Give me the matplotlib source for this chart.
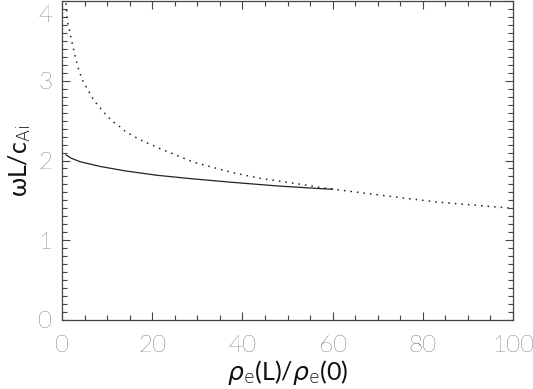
import matplotlib
matplotlib.use("Agg")
import matplotlib.pyplot as plt
from matplotlib.ticker import MultipleLocator
from matplotlib.transforms import ScaledTranslation

# Data
solid_x = [0.9, 2.0, 4.0, 8.5, 14, 21, 29, 38, 48, 58, 60]
solid_y = [2.07, 2.03, 1.985, 1.925, 1.87, 1.815, 1.77, 1.725, 1.68, 1.645, 1.64]

dotted_x = [0.9, 1.2, 1.5, 1.8, 2.1, 2.4, 2.7, 3.0, 3.3, 3.7, 4.2, 4.7, 5.5, 6.2,
            6.8, 7.7, 8.6, 9.5, 10.5, 11.5, 12.7, 13.7, 15.1, 16.2, 17.3, 21.7,
            29.1, 38, 44.6, 52, 58.7, 70, 83, 100]
dotted_y = [3.97, 3.75, 3.67, 3.59, 3.51, 3.44, 3.36, 3.29, 3.22, 3.14, 3.06, 2.99,
            2.91, 2.84, 2.78, 2.71, 2.65, 2.59, 2.53, 2.48, 2.43, 2.38, 2.33, 2.295,
            2.26, 2.15, 1.98, 1.845, 1.77, 1.71, 1.65, 1.57, 1.48, 1.40]

x_ticks = [0, 20, 40, 60, 80, 100]
y_ticks = [0, 1, 2, 3, 4]

plt.rcParams['font.family'] = ['Lato', 'DejaVu Sans']
plt.rcParams['font.weight'] = 'light'
plt.rcParams['mathtext.default'] = 'regular'

fig = plt.figure(figsize=(5.33, 3.89), dpi=100)
ax = fig.add_axes([62/533, 69/389, 451/533, 319/389])

ax.plot(solid_x, solid_y, color='#222222', lw=0.9, ls='-')
ax.plot(dotted_x, dotted_y, color='#222222', lw=1.1, ls=(0, (1, 3.3)))

ax.set_xlim(0, 100)
ax.set_ylim(0, 4)
ax.set_xticks(x_ticks)
ax.set_yticks(y_ticks)
ax.xaxis.set_minor_locator(MultipleLocator(5))
ax.yaxis.set_minor_locator(MultipleLocator(0.1))
ax.tick_params(which='both', direction='in', top=True, right=True,
               color='#444444', width=0.8)
ax.tick_params(which='major', length=6, labelsize=17.5, labelcolor='#111111')
ax.tick_params(which='minor', length=3.3)
ax.tick_params(axis='x', pad=11)
ax.tick_params(axis='y', pad=7)
for s in ax.spines.values():
    s.set_color('#444444')
    s.set_linewidth(0.9)

# shift the top "4" label down so it stays inside the figure, like the reference
fig.canvas.draw()
lbl = ax.get_yticklabels()[-1]
lbl.set_transform(lbl.get_transform() + ScaledTranslation(0, -9/72, fig.dpi_scale_trans))

ax.set_xlabel(r'$\mathbf{\it{\rho}}_{\rm e}$(L)/$\mathbf{\it{\rho}}_{\rm e}$(0)',
              fontsize=18, color='#111111', labelpad=1)
ax.set_ylabel(r'$\omega$L/c$_{\rm Ai}$', fontsize=18, color='#111111', labelpad=4)

fig.savefig('out.png', dpi=100)
